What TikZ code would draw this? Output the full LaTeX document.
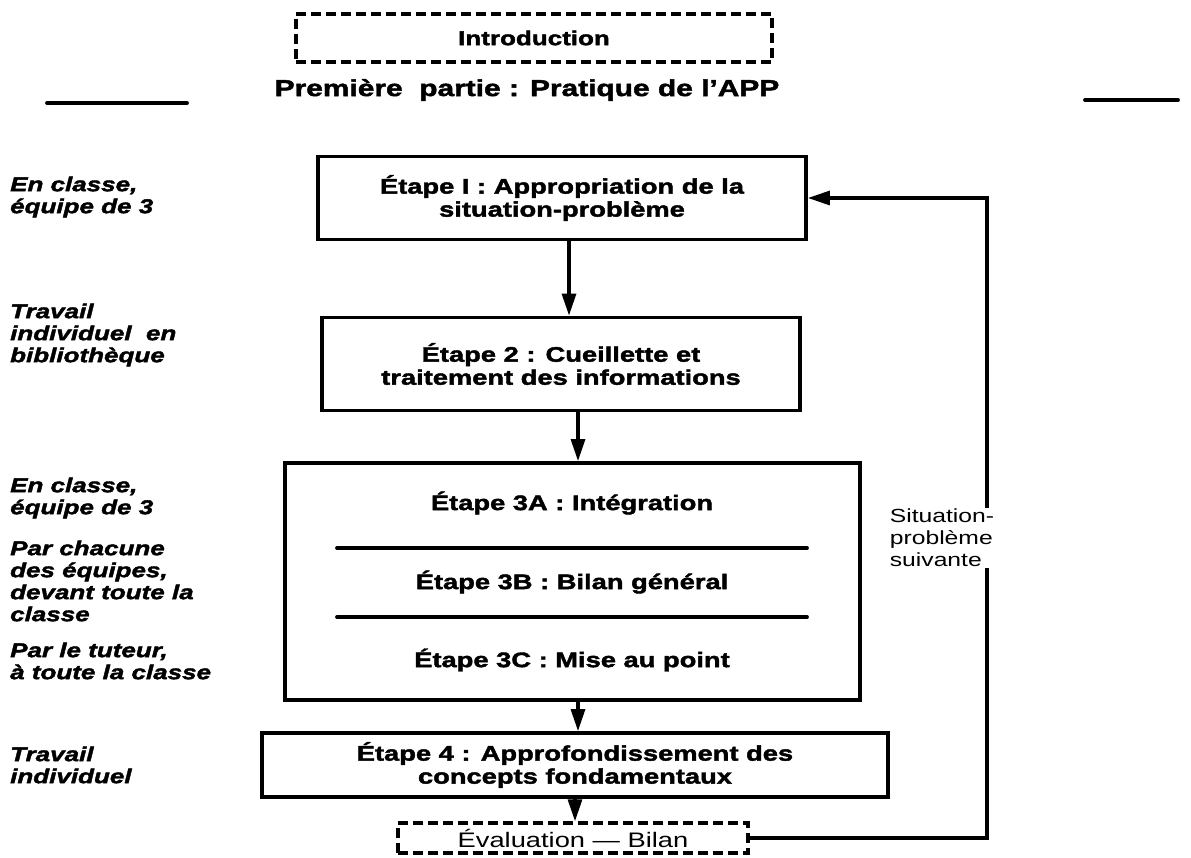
\documentclass[tikz,border=0pt]{standalone}
\usepackage{fontspec}
\setmainfont{Liberation Sans}[FakeStretch=1.3,
  BoldFeatures={FakeBold=2}, BoldItalicFeatures={FakeBold=2}]
\usetikzlibrary{arrows.meta}
\begin{document}
\begin{tikzpicture}[x=1pt,y=-1pt,
  stepbox/.style={draw, line width=3.8pt, inner sep=0pt, align=center,
    font=\fontsize{21}{23}\selectfont\bfseries},
  dashbox/.style={draw, line width=3.4pt, dash pattern=on 10pt off 5pt, inner sep=0pt},
  note/.style={anchor=west, align=left, inner sep=0pt,
    font=\fontsize{20}{22}\selectfont\bfseries\itshape},
  steptext/.style={inner sep=0pt, font=\fontsize{21}{23}\selectfont\bfseries},
  flow/.style={line width=3.2pt, -{Triangle[length=22pt,width=14pt]}},
  rule/.style={line width=3.8pt, line cap=round}
]
\useasboundingbox (0,0) rectangle (1191,858);

% header
\node[dashbox, minimum width=476pt, minimum height=48pt,
  font=\fontsize{20}{22}\selectfont\bfseries] (intro) at (534,38) {Introduction};
\node[inner sep=0pt, font=\fontsize{23}{26}\selectfont\bfseries] (title) at (527,90)
  {Première\ \ partie : Pratique de l'APP};
\draw[rule] (47,103) -- (187,103);
\draw[rule] (1085,100) -- (1178,100);

% steps
\node[stepbox, minimum width=488pt, minimum height=83pt] (s1) at (562,198)
  {Étape I : Appropriation de la\\situation-problème};
\node[stepbox, minimum width=478pt, minimum height=93pt] (s2) at (561,364)
  {Étape 2 : Cueillette et\\traitement des informations};
\node[draw, line width=3.8pt, minimum width=575pt, minimum height=237pt] (s3) at (572.5,581.5) {};
\node[steptext] (s3a) at (572,503) {Étape 3A : Intégration};
\node[steptext] (s3b) at (572,582) {Étape 3B : Bilan général};
\node[steptext] (s3c) at (572,660) {Étape 3C : Mise au point};
\draw[rule] (337,548) -- (807,548);
\draw[rule] (337,617) -- (807,617);
\node[stepbox, minimum width=626pt, minimum height=64pt] (s4) at (575,765)
  {Étape 4 : Approfondissement des\\concepts fondamentaux};
\node[dashbox, minimum width=350pt, minimum height=30pt,
  font=\fontsize{21}{23}\selectfont] (eval) at (573,838) {Évaluation — Bilan};

% vertical flow
\coordinate (c1) at (569,0);
\coordinate (c2) at (578,0);
\coordinate (c3) at (578,0);
\coordinate (c4) at (575,0);
\draw[flow] (s1.south -| c1) -- (s2.north -| c1);
\draw[flow] (s2.south -| c2) -- (s3.north -| c2);
\draw[flow] (s3.south -| c3) -- (s4.north -| c3);
\draw[flow] (s4.south -| c4) -- (eval.north -| c4);

% loop back to the first step
\coordinate (fb) at (987,838);
\draw[flow] (eval.east) -- (fb) |- (s1.east);
\node[fill=white, align=left, inner sep=1pt,
  font=\fontsize{19}{22}\selectfont] (next) at (942,538) {Situation-\\problème\\suivante};

% who / where
\node[note] (n1) at (10,197) {En classe,\\équipe de 3};
\node[note] (n2) at (10,335) {Travail\\individuel\ \ en\\bibliothèque};
\node[note] (n3) at (10,498) {En classe,\\équipe de 3};
\node[note] (n4) at (10,581) {Par chacune\\des équipes,\\devant toute la\\classe};
\node[note] (n5) at (10,661) {Par le tuteur,\\à toute la classe};
\node[note] (n6) at (10,765) {Travail\\individuel};
\end{tikzpicture}
\end{document}
